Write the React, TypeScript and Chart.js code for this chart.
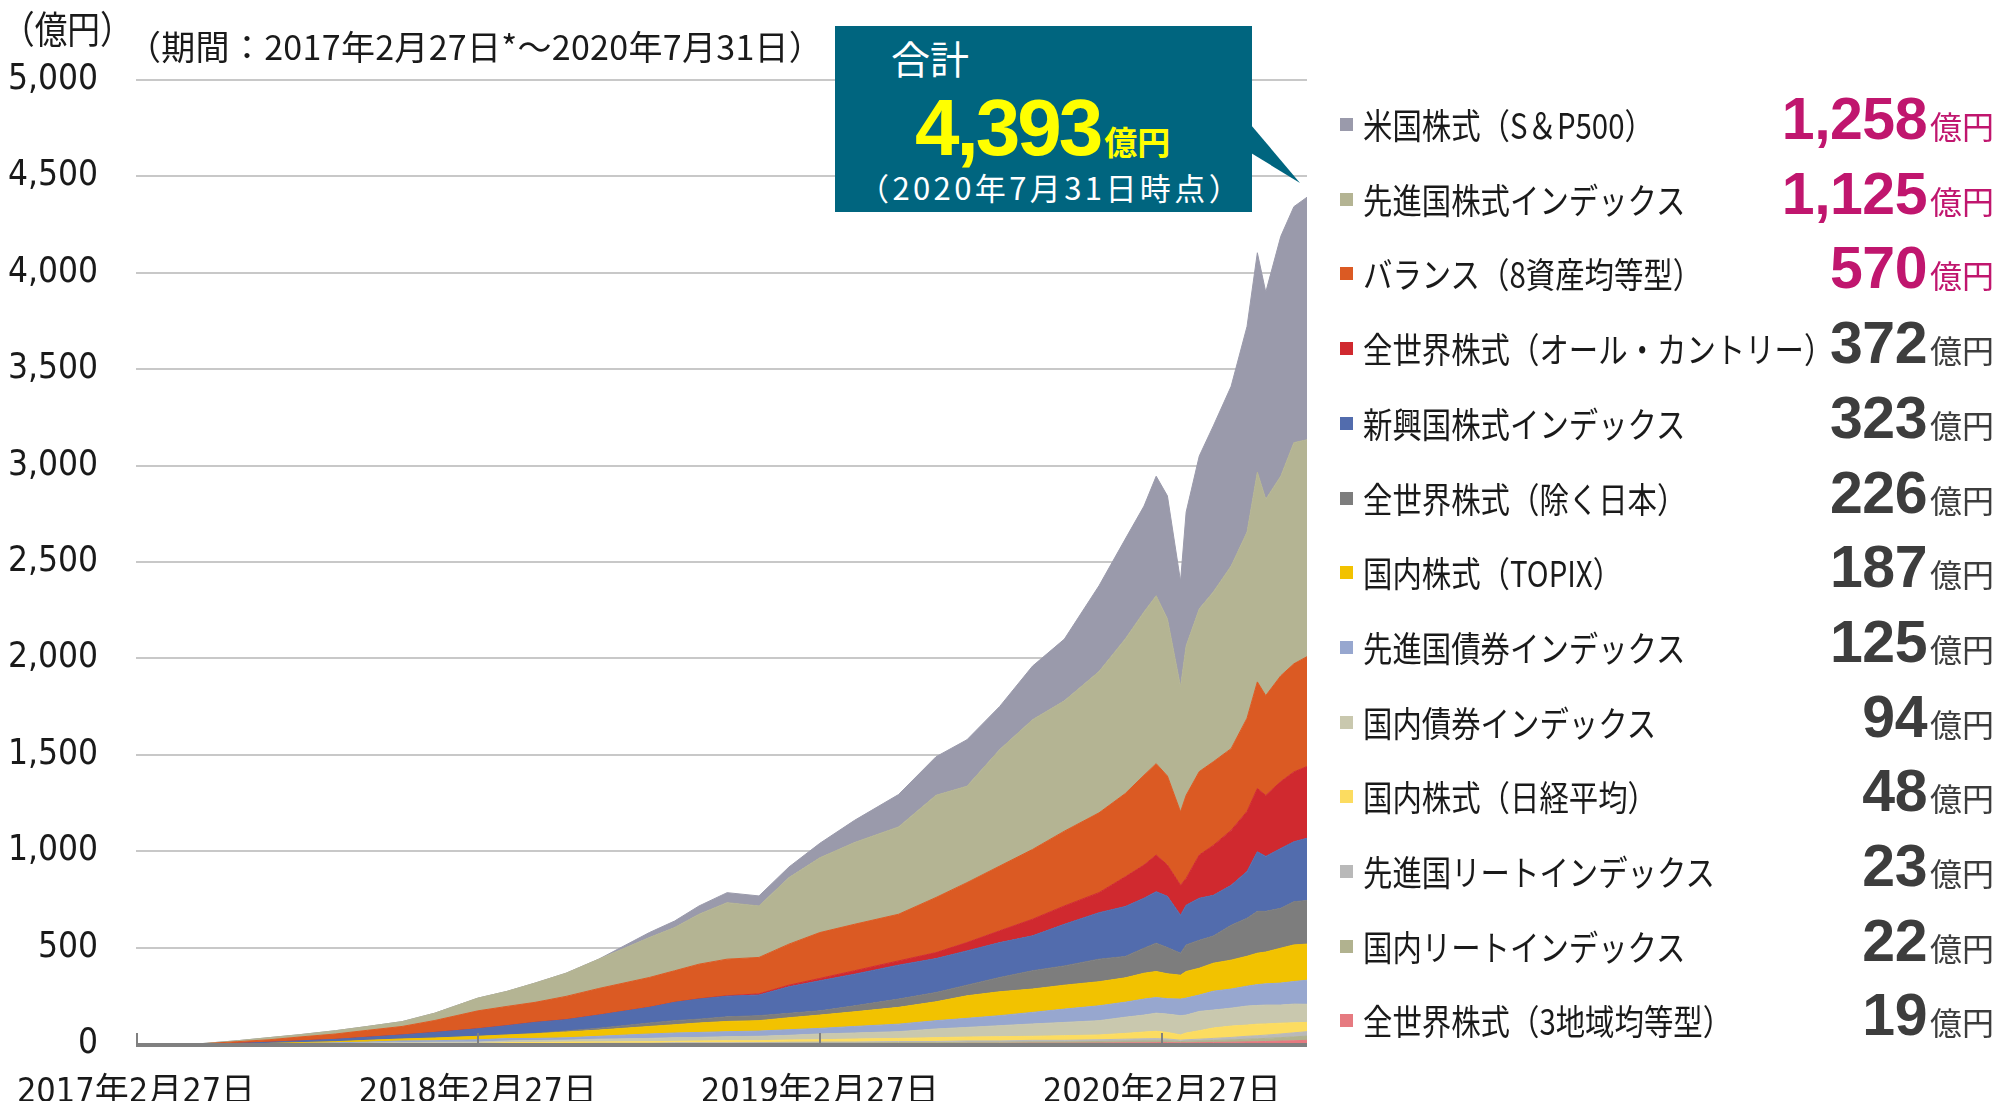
import React, { useEffect, useRef } from 'react';
import { Chart, registerables } from 'chart.js';

Chart.register(...registerables);

// ---- data ----
const dates = [
  '2017-02-27', '2017-05-08', '2017-06-15', '2017-07-19', '2017-08-20', '2017-09-28', '2017-11-01', '2017-12-08', '2018-01-12', '2018-02-27',
  '2018-03-30', '2018-04-29', '2018-06-01', '2018-07-06', '2018-08-29', '2018-09-25', '2018-10-21', '2018-11-20', '2018-12-24', '2019-01-25',
  '2019-02-27', '2019-04-05', '2019-05-22', '2019-07-01', '2019-08-03', '2019-09-07', '2019-10-12', '2019-11-15', '2019-12-22', '2020-01-19',
  '2020-02-08', '2020-02-21', '2020-03-04', '2020-03-18', '2020-03-24', '2020-04-07', '2020-04-22', '2020-05-11', '2020-05-28', '2020-06-08',
  '2020-06-17', '2020-07-03', '2020-07-17', '2020-07-31',
];

// stacked from bottom to top (億円)
const threeRegion = [0,0,0,0,0,0,0,0,0,0, 0,0,0,0,0,0,0,0,1,1, 1,1,2,2,3,3,4,4,5,6, 6,7,7,6,6,7,8,9,11,12, 13,15,17,19];
const jpReit = [0,0,0,0,0,0,0,0,0,1, 1,1,1,2,2,3,3,3,3,4, 4,4,5,5,6,6,7,7,8,9, 10,10,9,7,8,9,10,12,14,15, 16,18,20,22];
const devReit = [0,0,0,0,0,0,0,0,0,0, 1,1,1,2,2,3,3,3,3,4, 5,5,6,6,7,7,8,8,9,10, 11,11,10,7,8,9,11,13,15,16, 17,19,21,23];
const nikkei = [0,0,0,0,0,0,0,0,0,2, 5,6,8,7,8,8,10,11,10,12, 12,16,16,20,20,22,21,24,25,30, 35,38,34,27,35,44,54,59,58,60, 58,56,52,48];
const jpBond = [0,0,0,0,0,0,5,7,9,7, 9,10,10,14,17,19,18,21,23,24, 30,31,35,45,50,57,64,69,74,84, 88,94,95,100,93,100,93,93,99,97, 98,94,97,94];
const devBond = [0,0,0,0,3,6,5,9,8,12, 12,11,12,15,23,24,26,26,27,29, 29,34,39,43,47,52,60,69,77,78, 83,81,80,86,88,85,98,99,103,108, 110,114,117,125];
const topix = [0,0,0,3,4,6,9,10,14,18, 19,24,30,32,39,43,49,53,54,62, 69,76,87,98,117,124,121,124,125,126, 134,135,129,124,138,139,145,150,155,163, 165,181,190,187];
const exJapan = [0,0,0,0,0,0,0,0,0,0, 0,2,6,10,18,21,20,24,26,23, 22,31,43,48,55,74,95,100,117,111, 130,147,136,114,138,145,141,181,197,217, 211,207,224,226];
const emerging = [0,0,3,6,9,12,16,21,29,39, 48,57,58,68,81,95,104,107,107,138, 156,164,176,176,178,181,181,216,241,259, 259,267,266,197,206,218,211,207,243,309, 285,310,311,323];
const allCountry = [0,0,0,0,0,0,0,0,0,0, 0,0,0,0,0,0,1,2,6,8, 12,18,22,31,43,61,86,95,104,154, 172,190,162,155,139,224,259,285,311,328, 316,347,362,372];
const balance8 = [0,1,9,13,20,28,36,44,62,93, 100,104,121,138,155,164,180,190,189,213, 238,241,242,286,311,336,362,388,414,432, 466,474,462,381,431,433,434,424,484,553, 518,549,561,570];
const devStock = [0,1,5,11,12,17,20,25,38,66, 78,100,120,152,207,224,259,293,267,345, 388,424,453,530,500,604,673,676,733,802, 847,871,815,649,775,844,881,947,965,1088, 1019,1035,1147,1125];
const sp500 = [0,0,0,0,0,0,0,0,0,0, 0,0,0,0,26,34,43,52,52,55, 75,115,168,200,241,224,278,320,445,518, 549,620,638,547,694,793,861,932,1067,1138, 1074,1244,1224,1258];

const seriesNames = [
  '全世界株式（3地域均等型）', '国内リートインデックス', '先進国リートインデックス', '国内株式（日経平均）',
  '国内債券インデックス', '先進国債券インデックス', '国内株式（TOPIX）', '全世界株式（除く日本）',
  '新興国株式インデックス', '全世界株式（オール・カントリー）', 'バランス（8資産均等型）', '先進国株式インデックス',
  '米国株式（S＆P500）',
];
const seriesValues = [threeRegion, jpReit, devReit, nikkei, jpBond, devBond, topix, exJapan, emerging, allCountry, balance8, devStock, sp500];
const seriesColors = [
  '#e67a80', '#b1b28f', '#b9b9b9', '#fcdc60', '#c9c8ae', '#97a7cf', '#f2c200', '#7d7d7d',
  '#526cad', '#d0292f', '#db5a23', '#b4b493', '#9a9aab',
];
const highlightCount = 3;

const tickDates = ['2017-02-27', '2018-02-27', '2019-02-27', '2020-02-27'];
const tickLabels = ['2017年2月27日', '2018年2月27日', '2019年2月27日', '2020年2月27日'];
const yMax = 5000;
const yStep = 500;

const unitLabel = '（億円）';
const periodLabel = '（期間：2017年2月27日*〜2020年7月31日）';
const totalTitle = '合計';
const totalValue = '4,393';
const totalUnit = '億円';
const totalDate = '（2020年7月31日時点）';
const valueUnit = '億円';

function dayOffset(s: string): number {
  const [y, m, d] = s.split('-').map(Number);
  return Math.round((Date.UTC(y, m - 1, d) - Date.UTC(2017, 1, 27)) / 86400000);
}

const tickFont = "'Liberation Sans Narrow', 'DejaVu Sans Condensed', 'Noto Sans CJK JP', sans-serif";
const jpFont = "'Noto Sans CJK JP', sans-serif";
const numFont = "'Liberation Sans', Arial, sans-serif";

export default function App() {
  const ref = useRef<HTMLCanvasElement>(null);

  useEffect(() => {
    const xs = dates.map(dayOffset);
    const tickValues = tickDates.map(dayOffset);
    const datasets = seriesValues.map((vals, i) => ({
      label: seriesNames[i],
      data: vals.map((v, j) => ({ x: xs[j], y: v })),
      backgroundColor: seriesColors[i],
      borderColor: seriesColors[i],
      borderWidth: 1,
      pointRadius: 0,
      tension: 0,
      fill: i === 0 ? 'origin' : '-1',
    }));

    const axisPlugin = {
      id: 'axisTicks',
      afterDatasetsDraw(chart: any) {
        const { ctx, chartArea } = chart;
        const sx = chart.scales.x;
        ctx.save();
        ctx.strokeStyle = '#808080';
        ctx.lineWidth = 4;
        ctx.beginPath();
        ctx.moveTo(chartArea.left, chartArea.bottom + 1);
        ctx.lineTo(chartArea.right, chartArea.bottom + 1);
        ctx.stroke();
        ctx.lineWidth = 2;
        tickValues.forEach((v) => {
          const px = Math.round(sx.getPixelForValue(v)) + (v === 0 ? 1 : 0);
          ctx.beginPath();
          ctx.moveTo(px, chartArea.bottom);
          ctx.lineTo(px, chartArea.bottom - 11);
          ctx.stroke();
        });
        ctx.restore();
      },
    };

    const chart = new Chart(ref.current as HTMLCanvasElement, {
      type: 'line',
      data: { datasets: datasets as any },
      options: {
        responsive: false,
        animation: false,
        devicePixelRatio: 1,
        layout: { padding: { left: 0, top: 80, right: 693, bottom: 0 } },
        plugins: { legend: { display: false }, tooltip: { enabled: false } },
        scales: {
          x: {
            type: 'linear',
            min: 0,
            max: xs[xs.length - 1],
            afterBuildTicks: (s: any) => {
              s.ticks = tickValues.map((v) => ({ value: v }));
            },
            afterFit: (s: any) => {
              s.height = 57;
              s.paddingLeft = 0;
              s.paddingRight = 0;
            },
            grid: { display: false, drawTicks: false },
            border: { display: false },
            ticks: {
              autoSkip: false,
              maxRotation: 0,
              padding: 29,
              color: '#1a1a1a',
              font: { family: tickFont, size: 34 },
              callback: (v: any) => {
                const k = tickValues.indexOf(Number(v));
                return k >= 0 ? tickLabels[k] : '';
              },
            },
          },
          y: {
            stacked: true,
            min: 0,
            max: yMax,
            afterFit: (s: any) => {
              s.width = 136;
            },
            grid: { color: '#c8c8c8', lineWidth: 2, drawTicks: false },
            border: { display: false },
            ticks: {
              stepSize: yStep,
              padding: 38,
              color: '#1a1a1a',
              font: { family: tickFont, size: 35 },
              callback: (v: any) => Number(v).toLocaleString('en-US'),
            },
          },
        },
      } as any,
      plugins: [axisPlugin],
    });
    return () => chart.destroy();
  }, []);

  const legendOrder = seriesNames.map((_, i) => seriesNames.length - 1 - i);

  return (
    <div style={{ position: 'absolute', left: 0, top: 0, width: 2000, height: 1103, overflow: 'hidden', background: '#fff' }}>
      <canvas ref={ref} width={2000} height={1103} style={{ position: 'absolute', left: 0, top: 0, width: 2000, height: 1103 }} />

      <div style={{ position: 'absolute', left: 2, top: 8, fontFamily: jpFont, fontSize: 38, lineHeight: 1, color: '#1a1a1a', transform: 'scaleX(0.86)', transformOrigin: 'left top', whiteSpace: 'nowrap' }}>
        {unitLabel}
      </div>
      <div style={{ position: 'absolute', left: 127, top: 29, fontFamily: jpFont, fontSize: 34, lineHeight: 1, color: '#1a1a1a', letterSpacing: 0.3, whiteSpace: 'nowrap' }}>
        {periodLabel}
      </div>

      {/* total callout */}
      <div style={{ position: 'absolute', left: 835, top: 26, width: 417, height: 186, background: '#00657f' }} />
      <svg width={2000} height={1103} style={{ position: 'absolute', left: 0, top: 0, pointerEvents: 'none' }}>
        <polygon points="1251,125 1251,153 1300,183" fill="#00657f" />
      </svg>
      <div style={{ position: 'absolute', left: 891, top: 38, fontFamily: jpFont, fontSize: 39, lineHeight: 1, color: '#fff', whiteSpace: 'nowrap' }}>
        {totalTitle}
      </div>
      <div style={{ position: 'absolute', left: 915, top: 88, display: 'flex', alignItems: 'baseline', lineHeight: 1, whiteSpace: 'nowrap', color: '#ffff00' }}>
        <span style={{ fontFamily: numFont, fontWeight: 700, fontSize: 80, letterSpacing: -3 }}>{totalValue}</span>
        <span style={{ fontFamily: jpFont, fontWeight: 700, fontSize: 33, marginLeft: 4 }}>{totalUnit}</span>
      </div>
      <div style={{ position: 'absolute', left: 858, top: 171, fontFamily: jpFont, fontSize: 31, lineHeight: 1, color: '#fff', letterSpacing: 3.4, whiteSpace: 'nowrap' }}>
        {totalDate}
      </div>

      {/* legend */}
      {legendOrder.map((si, row) => {
        const cy = 124 + row * 74.7;
        const vals = seriesValues[si];
        const v = vals[vals.length - 1];
        const col = row < highlightCount ? '#c0166e' : '#3d3d3d';
        return (
          <React.Fragment key={si}>
            <div style={{ position: 'absolute', left: 1340, top: cy - 6, width: 13, height: 13, background: seriesColors[si] }} />
            <div style={{ position: 'absolute', left: 1363, top: cy - 18, fontFamily: jpFont, fontSize: 35, lineHeight: 1, color: '#1a1a1a', whiteSpace: 'nowrap', transform: 'scaleX(0.84)', transformOrigin: 'left top' }}>
              {seriesNames[si]}
            </div>
            <div style={{ position: 'absolute', right: 6, top: cy - 34, display: 'flex', alignItems: 'baseline', lineHeight: 1, whiteSpace: 'nowrap', color: col }}>
              <span style={{ fontFamily: numFont, fontWeight: 700, fontSize: 59, letterSpacing: -0.5 }}>{v.toLocaleString('en-US')}</span>
              <span style={{ fontFamily: jpFont, fontSize: 32, marginLeft: 3 }}>{valueUnit}</span>
            </div>
          </React.Fragment>
        );
      })}
    </div>
  );
}
